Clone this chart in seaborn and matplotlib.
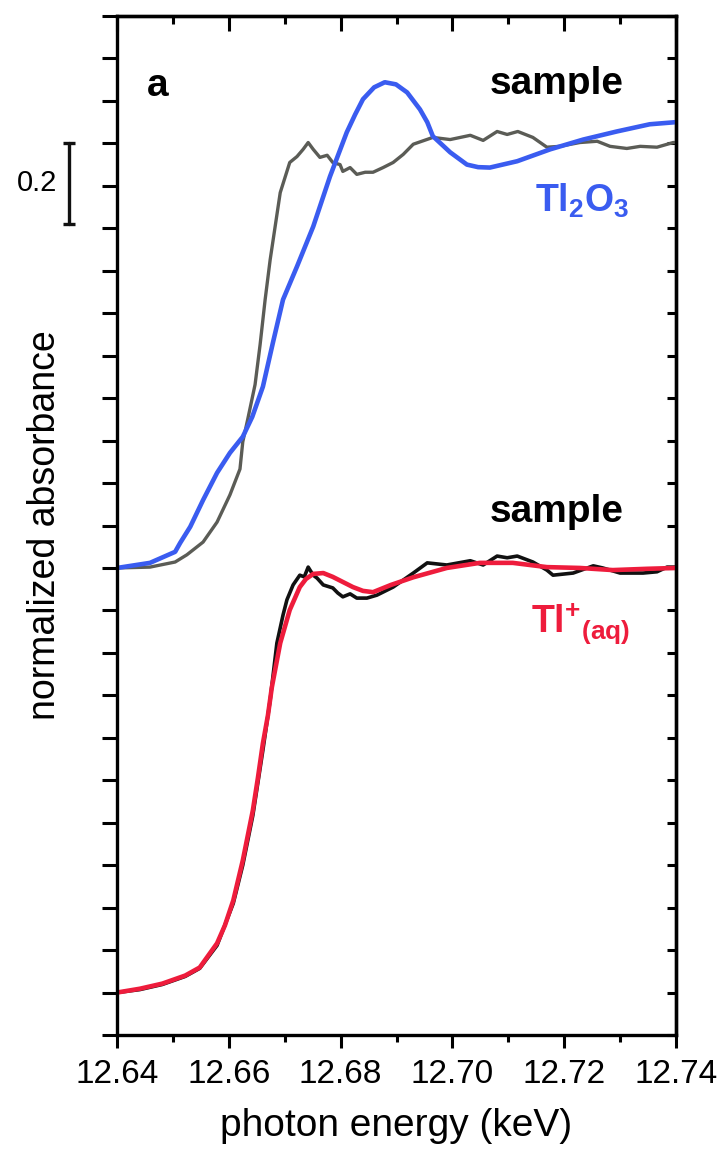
import numpy as np
import pandas as pd
import matplotlib
matplotlib.use("Agg")
import matplotlib.pyplot as plt
import seaborn as sns
from matplotlib.ticker import MultipleLocator, FormatStrFormatter

# ---------------- data ----------------
# Tl2O3 reference spectrum (normalized absorbance), upper panel
E_tl2o3 = [12.6400, 12.6459, 12.6504, 12.6513, 12.6531, 12.6554, 12.6579, 12.6602,
           12.6625, 12.6642, 12.6661, 12.6679, 12.6697, 12.6722, 12.6751, 12.6781,
           12.6811, 12.6826, 12.6840, 12.6860, 12.6879, 12.6899, 12.6919, 12.6942,
           12.6955, 12.6965, 12.6996, 12.7026, 12.7046, 12.7067, 12.7116, 12.7175,
           12.7234, 12.7294, 12.7353, 12.7400]
A_tl2o3 = [0.000, 0.012, 0.038, 0.059, 0.097, 0.160, 0.224, 0.271,
           0.309, 0.356, 0.427, 0.531, 0.632, 0.710, 0.804, 0.922,
           1.026, 1.068, 1.104, 1.132, 1.144, 1.139, 1.120, 1.080,
           1.050, 1.017, 0.979, 0.950, 0.944, 0.943, 0.958, 0.986,
           1.009, 1.028, 1.045, 1.050]

# sample spectrum, upper panel (grey)
E_sample_top = [12.6400, 12.6459, 12.6504, 12.6525, 12.6554, 12.6579, 12.6602, 12.6620,
                12.6625, 12.6634, 12.6647, 12.6656, 12.6665, 12.6674, 12.6692, 12.6709,
                12.6722, 12.6733, 12.6742, 12.6751, 12.6763, 12.6776, 12.6786, 12.6799,
                12.6804, 12.6817, 12.6829, 12.6844, 12.6858, 12.6876, 12.6894, 12.6912,
                12.6930, 12.6965, 12.6996, 12.7032, 12.7055, 12.7080, 12.7098, 12.7117,
                12.7144, 12.7169, 12.7192, 12.7228, 12.7259, 12.7282, 12.7312, 12.7336,
                12.7366, 12.7395, 12.7400]
A_sample_top = [0.000, 0.002, 0.014, 0.031, 0.061, 0.108, 0.172, 0.233,
                0.297, 0.351, 0.432, 0.526, 0.632, 0.726, 0.884, 0.955,
                0.969, 0.986, 1.002, 0.986, 0.967, 0.972, 0.955, 0.950,
                0.934, 0.943, 0.927, 0.932, 0.932, 0.943, 0.955, 0.974,
                0.998, 1.014, 1.009, 1.019, 1.007, 1.028, 1.021, 1.028,
                1.014, 0.991, 0.993, 1.002, 1.005, 0.993, 0.988, 0.993,
                0.991, 1.002, 1.002]

# Tl+(aq) reference spectrum, lower panel
E_tlaq = [12.6400, 12.6441, 12.6481, 12.6522, 12.6548, 12.6579, 12.6593, 12.6608,
          12.6625, 12.6643, 12.6652, 12.6661, 12.6670, 12.6677, 12.6692, 12.6709,
          12.6727, 12.6738, 12.6751, 12.6769, 12.6786, 12.6804, 12.6822, 12.6840,
          12.6858, 12.6890, 12.6930, 12.6990, 12.7049, 12.7108, 12.7169, 12.7228,
          12.7287, 12.7348, 12.7400]
A_tlaq = [0.000, 0.009, 0.021, 0.040, 0.059, 0.116, 0.158, 0.217,
          0.311, 0.429, 0.505, 0.587, 0.653, 0.719, 0.823, 0.901,
          0.955, 0.974, 0.986, 0.988, 0.979, 0.967, 0.955, 0.946,
          0.943, 0.960, 0.978, 1.000, 1.012, 1.012, 1.002, 1.000,
          0.995, 0.998, 1.000]

# sample spectrum, lower panel (black)
E_sample_bot = [12.6400, 12.6441, 12.6481, 12.6522, 12.6548, 12.6579, 12.6608, 12.6625,
                12.6643, 12.6661, 12.6674, 12.6686, 12.6697, 12.6704, 12.6715, 12.6727,
                12.6735, 12.6742, 12.6751, 12.6758, 12.6769, 12.6786, 12.6795, 12.6804,
                12.6817, 12.6829, 12.6847, 12.6865, 12.6894, 12.6930, 12.6955, 12.6990,
                12.7032, 12.7055, 12.7080, 12.7098, 12.7116, 12.7144, 12.7169, 12.7180,
                12.7216, 12.7252, 12.7269, 12.7300, 12.7341, 12.7366, 12.7384, 12.7400]
A_sample_bot = [0.000, 0.007, 0.019, 0.038, 0.057, 0.111, 0.210, 0.300,
                0.417, 0.571, 0.689, 0.823, 0.889, 0.925, 0.960, 0.983,
                0.979, 1.002, 0.983, 0.976, 0.960, 0.953, 0.941, 0.932,
                0.939, 0.929, 0.929, 0.936, 0.955, 0.988, 1.012, 1.007,
                1.017, 1.007, 1.028, 1.024, 1.028, 1.014, 0.995, 0.983,
                0.988, 1.005, 1.000, 0.988, 0.988, 0.991, 1.002, 1.002]

OFFSET_TOP = 1.0          # vertical offset of the upper pair of spectra
X_TICKS = [12.64, 12.66, 12.68, 12.70, 12.72, 12.74]
SCALE_BAR = 0.2

# ---------------- style ----------------
sns.set_theme(style="ticks")
plt.rcParams["font.family"] = ["Liberation Sans", "DejaVu Sans"]
plt.rcParams["mathtext.fontset"] = "custom"
plt.rcParams["mathtext.rm"] = "Liberation Sans"
plt.rcParams["mathtext.bf"] = "Liberation Sans:bold"
plt.rcParams["mathtext.it"] = "Liberation Sans:italic"
plt.rcParams["axes.edgecolor"] = "black"
plt.rcParams["axes.labelcolor"] = "black"
plt.rcParams["axes.linewidth"] = 2.4
plt.rcParams["xtick.color"] = "black"
plt.rcParams["ytick.color"] = "black"
plt.rcParams["xtick.labelcolor"] = "black"
plt.rcParams["text.color"] = "black"

GREY = "#5b5c56"
BLUE = "#3a5cf0"
RED = "#ee1c3c"
BLACK = "#111111"

fig = plt.figure(figsize=(7.21, 11.57), dpi=100)
ax = fig.add_axes([117 / 721, 1 - 1035 / 1157, 559 / 721, 1019 / 1157])

top_grey = pd.DataFrame({"E": E_sample_top, "A": np.array(A_sample_top) + OFFSET_TOP})
top_blue = pd.DataFrame({"E": E_tl2o3, "A": np.array(A_tl2o3) + OFFSET_TOP})
bot_black = pd.DataFrame({"E": E_sample_bot, "A": A_sample_bot})
bot_red = pd.DataFrame({"E": E_tlaq, "A": A_tlaq})

line_kw = dict(sort=False, estimator=None, ax=ax, solid_joinstyle="round", solid_capstyle="round")
sns.lineplot(data=top_grey, x="E", y="A", color=GREY, lw=2.4, **line_kw)
sns.lineplot(data=top_blue, x="E", y="A", color=BLUE, lw=3.3, **line_kw)
sns.lineplot(data=bot_black, x="E", y="A", color=BLACK, lw=2.6, **line_kw)
sns.lineplot(data=bot_red, x="E", y="A", color=RED, lw=3.3, **line_kw)

ax.set_xlim(12.64, 12.74)
ax.set_ylim(-0.1, 2.3)
ax.set_xticks(X_TICKS)
ax.xaxis.set_minor_locator(MultipleLocator(0.01))
ax.xaxis.set_major_formatter(FormatStrFormatter("%.2f"))
ax.yaxis.set_major_locator(MultipleLocator(0.1))

ax.tick_params(axis="x", which="major", direction="out", length=9.5, width=2.2,
               labelsize=24, pad=8, top=False, labelcolor="black")
ax.tick_params(axis="x", which="minor", direction="out", length=5, width=2.2, top=False)
ax.tick_params(axis="y", which="major", direction="out", length=11, width=2.2,
               labelleft=False, right=False)

secx = ax.secondary_xaxis("top")
secx.set_xticks(X_TICKS)
secx.xaxis.set_minor_locator(MultipleLocator(0.01))
secx.tick_params(axis="x", which="major", direction="in", length=11, width=2.2, labeltop=False)
secx.tick_params(axis="x", which="minor", direction="in", length=6, width=2.2)
secx.spines["top"].set_linewidth(2.4)

secy = ax.secondary_yaxis("right")
secy.yaxis.set_major_locator(MultipleLocator(0.1))
secy.tick_params(axis="y", which="major", direction="in", length=6.5, width=2.2, labelright=False)
secy.spines["right"].set_linewidth(2.4)

for s in ax.spines.values():
    s.set_linewidth(2.4)
    s.set_color("black")

ax.set_xlabel("photon energy (keV)", fontsize=28, color="black")
ax.xaxis.set_label_coords(0.5, -0.072)
ax.set_ylabel("normalized absorbance", fontsize=27, color="black")
ax.yaxis.set_label_coords(-0.097, 0.5)

# annotations
ax.text(12.6472, 2.111, "a", fontsize=28, fontweight="bold", ha="center", va="baseline")
ax.text(12.7187, 2.116, "sample", fontsize=28, fontweight="bold", ha="center", va="baseline")
ax.text(12.7187, 1.108, "sample", fontsize=28, fontweight="bold", ha="center", va="baseline")
ax.text(12.7148, 1.840, r"$\mathbf{Tl_2O_3}$", fontsize=27, color=BLUE, ha="left", va="baseline")
ax.text(12.7141, 0.847, r"$\mathbf{Tl^{+}{}_{(aq)}}$", fontsize=27, color=RED, ha="left", va="baseline")

# scale bar (0.2 absorbance units), outside the axes on the left
xb = 12.6314
ax.plot([xb, xb], [2.0 - SCALE_BAR * 0.95, 2.0], color=BLACK, lw=2.4, marker="_",
        markersize=9, mew=2.4, clip_on=False)
ax.text(12.6294, 1.906, "0.2", fontsize=21, ha="right", va="center")

fig.savefig("out.png", dpi=100)
